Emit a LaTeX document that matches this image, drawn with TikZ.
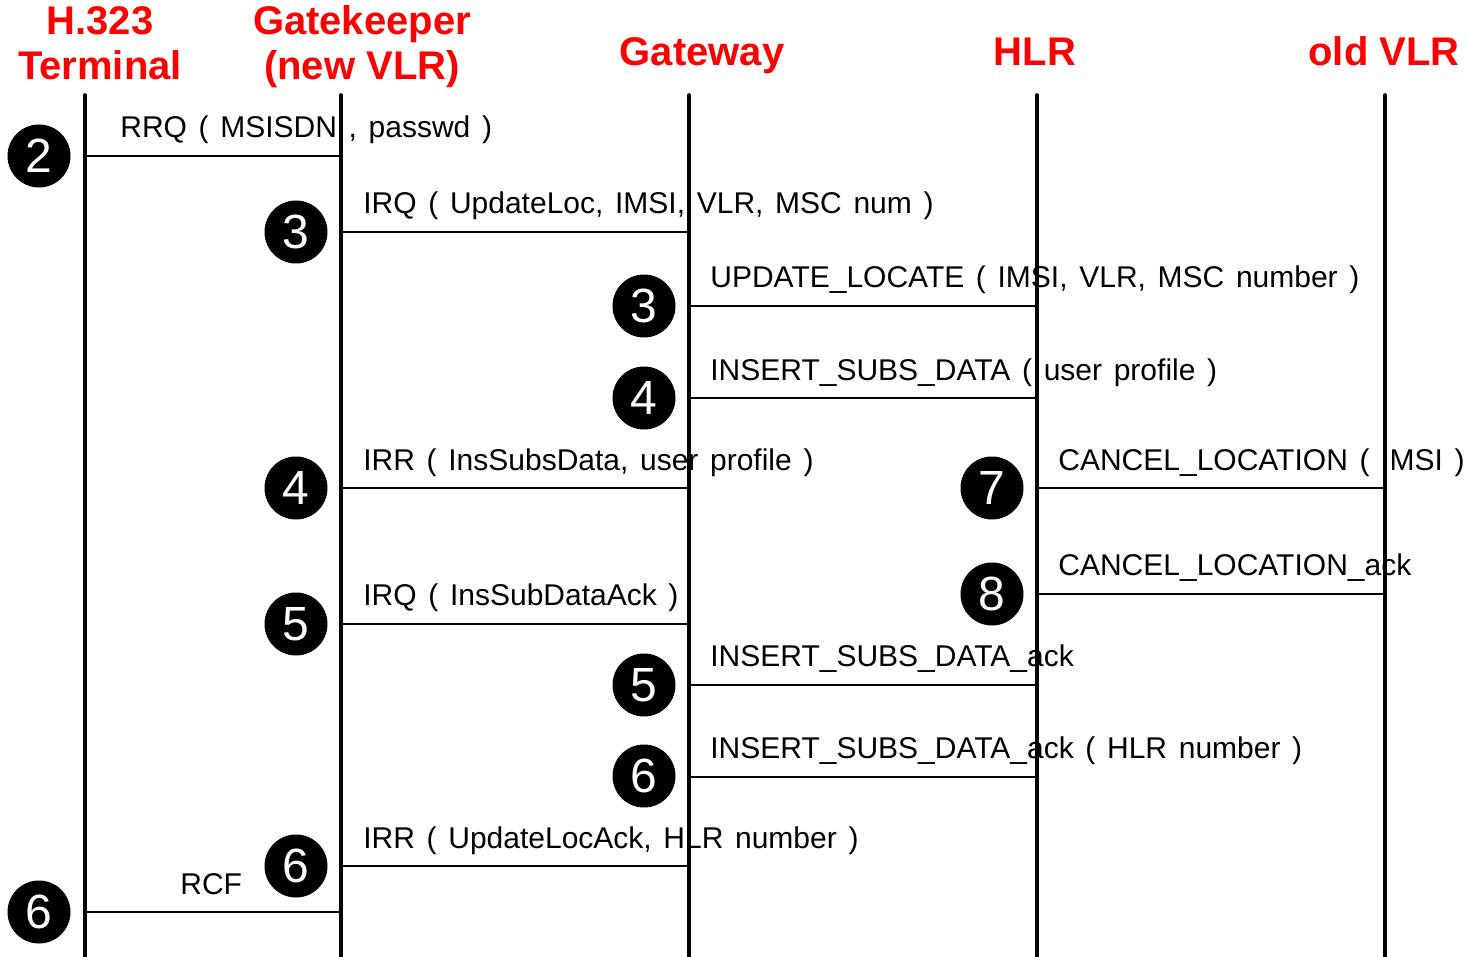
\documentclass[tikz,border=0pt]{standalone}
\usepackage{fontspec}
\setmainfont{Liberation Sans}[WordSpace=1.4]
\newfontfamily\headfont{Liberation Sans}
\begin{document}
\begin{tikzpicture}[x=0.5pt,y=-0.5pt,
  lifeline/.style={line width=1.8pt,line cap=round},
  msg/.style={line width=1pt},
  msgtext/.style={anchor=base west,inner sep=0pt,font=\fontsize{15}{18}\selectfont},
  header/.style={text=red,font=\headfont\fontsize{20}{22.5}\selectfont\bfseries,align=center,inner sep=0pt},
  stepno/.style={circle,fill=black,text=white,minimum size=31.5pt,inner sep=0pt,
    font=\fontsize{24}{24}\selectfont}]
\useasboundingbox (0,0) rectangle (1468,957);

% participants
\node[header,anchor=base] (hTerm) at (100,80) {H.323\\Terminal};
\node[header,anchor=base] (hGk)   at (362,80) {Gatekeeper\\(new VLR)};
\node[header,anchor=base] (hGw)   at (702,66) {Gateway};
\node[header,anchor=base] (hHlr)  at (1035,66) {HLR};
\node[header,anchor=base] (hOld)  at (1384,66) {old VLR};

% lifeline ends
\coordinate (termT) at (85,95);   \coordinate (termB) at (85,957);
\coordinate (gkT)   at (341,95);  \coordinate (gkB)   at (341,957);
\coordinate (gwT)   at (689,95);  \coordinate (gwB)   at (689,957);
\coordinate (hlrT)  at (1037,95); \coordinate (hlrB)  at (1037,957);
\coordinate (oldT)  at (1385,95); \coordinate (oldB)  at (1385,957);

% message labels
\node[msgtext] (tRRQ)  at (120,138)  {RRQ ( MSISDN , passwd )};
\node[msgtext] (tIRQa) at (363,214)  {IRQ ( UpdateLoc, IMSI, VLR, MSC num )};
\node[msgtext] (tUL)   at (710,288)  {UPDATE\_LOCATE ( IMSI, VLR, MSC number )};
\node[msgtext] (tISD)  at (710,380)  {INSERT\_SUBS\_DATA ( user profile )};
\node[msgtext] (tIRRa) at (363,470)  {IRR ( InsSubsData, user profile )};
\node[msgtext] (tCL)   at (1058,470) {CANCEL\_LOCATION ( IMSI )};
\node[msgtext] (tCLa)  at (1058,575) {CANCEL\_LOCATION\_ack};
\node[msgtext] (tIRQb) at (363,605)  {IRQ ( InsSubDataAck )};
\node[msgtext] (tISDa) at (710,666)  {INSERT\_SUBS\_DATA\_ack};
\node[msgtext] (tISDb) at (710,758)  {INSERT\_SUBS\_DATA\_ack ( HLR number )};
\node[msgtext] (tIRRb) at (363,848)  {IRR ( UpdateLocAck, HLR number )};
\node[msgtext] (tRCF)  at (180,894)  {RCF};

% message end points
\coordinate (rrqA)  at (85,156);   \coordinate (rrqB)  at (341,156);
\coordinate (irqaA) at (341,232);  \coordinate (irqaB) at (689,232);
\coordinate (ulA)   at (689,306);  \coordinate (ulB)   at (1037,306);
\coordinate (isdA)  at (689,398);  \coordinate (isdB)  at (1037,398);
\coordinate (irraA) at (341,488);  \coordinate (irraB) at (689,488);
\coordinate (clA)   at (1037,488); \coordinate (clB)   at (1385,488);
\coordinate (claA)  at (1037,594); \coordinate (claB)  at (1385,594);
\coordinate (irqbA) at (341,624);  \coordinate (irqbB) at (689,624);
\coordinate (isdaA) at (689,685);  \coordinate (isdaB) at (1037,685);
\coordinate (isdbA) at (689,777);  \coordinate (isdbB) at (1037,777);
\coordinate (irrbA) at (341,866);  \coordinate (irrbB) at (689,866);
\coordinate (rcfA)  at (85,912);   \coordinate (rcfB)  at (341,912);

\foreach \a/\b in {rrqA/rrqB,irqaA/irqaB,ulA/ulB,isdA/isdB,irraA/irraB,clA/clB,
                   claA/claB,irqbA/irqbB,isdaA/isdaB,isdbA/isdbB,irrbA/irrbB,rcfA/rcfB}
  \draw[msg] (\a) -- (\b);

% lifelines
\foreach \p in {term,gk,gw,hlr,old}
  \draw[lifeline] (\p T) -- (\p B);

% step numbers
\node[stepno] (s1)  at (39,156)  {2};
\node[stepno] (s2)  at (296,232) {3};
\node[stepno] (s3)  at (644,306) {3};
\node[stepno] (s4)  at (644,398) {4};
\node[stepno] (s5)  at (296,488) {4};
\node[stepno] (s6)  at (992,488) {7};
\node[stepno] (s7)  at (992,594) {8};
\node[stepno] (s8)  at (296,624) {5};
\node[stepno] (s9)  at (644,685) {5};
\node[stepno] (s10) at (644,776) {6};
\node[stepno] (s11) at (296,866) {6};
\node[stepno] (s12) at (39,912)  {6};
\end{tikzpicture}
\end{document}
